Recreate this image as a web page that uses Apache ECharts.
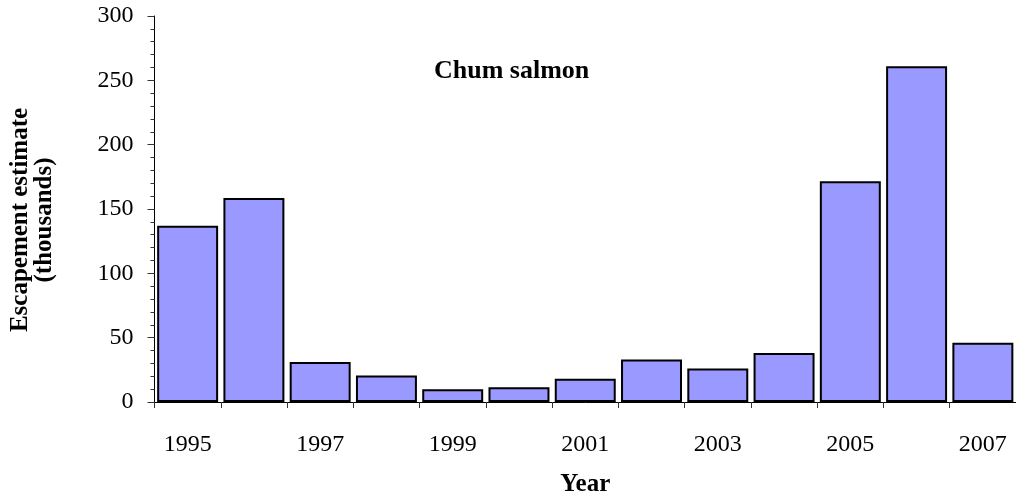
<!DOCTYPE html>
<html><head><meta charset="utf-8">
<script src="https://cdn.jsdelivr.net/npm/echarts@6/dist/echarts.min.js"></script>
<style>html,body{margin:0;padding:0;background:#fff}#c{width:1016px;height:502px}</style>
</head><body><div id="c"></div>
<script>
const categories = ['1995','1996','1997','1998','1999','2000','2001','2002','2003','2004','2005','2006','2007'];
const escapement = [137, 158.5, 31, 20.5, 10, 11.5, 18, 33, 26, 38, 171.5, 261, 46];
const yTicks = [0, 50, 100, 150, 200, 250, 300];

const F = '"Liberation Serif", "Times New Roman", serif';
const chart = echarts.init(document.getElementById('c'), null, {renderer: 'canvas'});
chart.setOption({
  animation: false,
  backgroundColor: '#fff',
  title: {
    text: 'Chum salmon', left: 434, top: 58, padding: 0,
    textStyle: {fontFamily: F, fontSize: 26, fontWeight: 'bold', color: '#000'}
  },
  grid: {left: 153, right: -4, top: 16, bottom: 98, containLabel: false},
  xAxis: {
    type: 'category', data: categories,
    name: 'Year', nameLocation: 'middle', nameGap: 70,
    nameTextStyle: {fontFamily: F, fontSize: 25, fontWeight: 'bold', color: '#000'},
    axisLine: {lineStyle: {color: '#000', width: 1}},
    axisTick: {show: true, length: 6, lineStyle: {color: '#333'}, alignWithLabel: false, interval: 0},
    axisLabel: {interval: 1, margin: 31, fontFamily: F, fontSize: 24, color: '#000'}
  },
  yAxis: {
    type: 'value', min: yTicks[0], max: yTicks[yTicks.length - 1], interval: 50,
    name: 'Escapement estimate\n(thousands)', nameLocation: 'middle', nameGap: 98, nameRotate: 90,
    nameTextStyle: {fontFamily: F, fontSize: 25, fontWeight: 'bold', color: '#000', lineHeight: 24, padding: [0, 22, 0, 0]},
    axisLine: {show: true, lineStyle: {color: '#000', width: 1}},
    axisTick: {show: true, length: 7, lineStyle: {color: '#333'}},
    minorTick: {show: true, splitNumber: 5, length: 4, lineStyle: {color: '#333'}},
    splitLine: {show: false},
    axisLabel: {margin: 21, fontFamily: F, fontSize: 24, color: '#000'}
  },
  series: [{
    type: 'bar', data: escapement, barCategoryGap: '8%',
    itemStyle: {color: '#9999FF', borderColor: '#000', borderWidth: 2}
  }]
});
</script></body></html>
